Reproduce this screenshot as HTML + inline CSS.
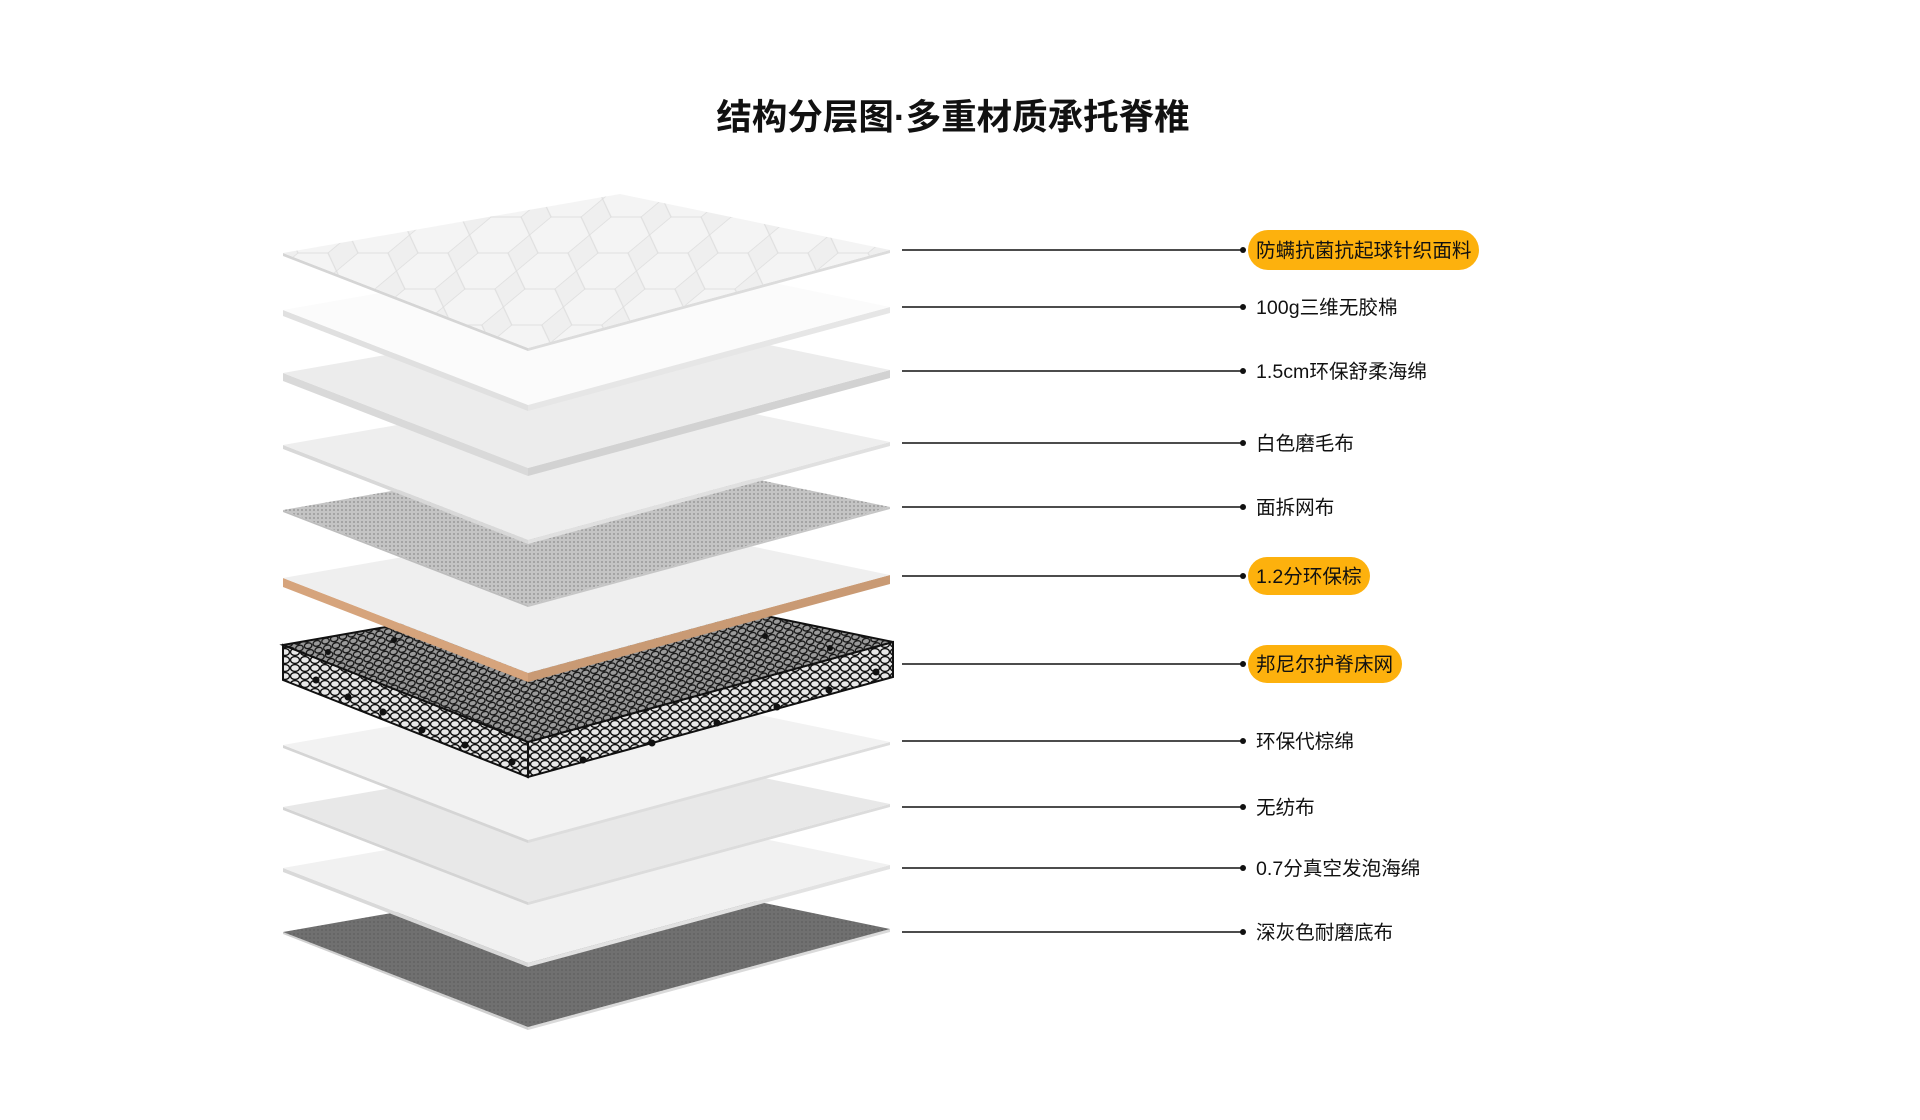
<!DOCTYPE html>
<html><head><meta charset="utf-8"><style>
html,body{margin:0;padding:0;background:#fff;}
svg{display:block;}
</style></head><body>
<svg width="1920" height="1120" viewBox="0 0 1920 1120" xmlns="http://www.w3.org/2000/svg">
<defs>
<pattern id="spr" width="10" height="8" patternUnits="userSpaceOnUse">
<rect width="10" height="8" fill="#e8e8e8"/>
<ellipse cx="5" cy="4" rx="4.5" ry="3.4" fill="none" stroke="#111" stroke-width="1.4"/>
</pattern>
<pattern id="spr2" width="9" height="7" patternUnits="userSpaceOnUse" patternTransform="rotate(-15)">
<ellipse cx="4.5" cy="3.5" rx="3.8" ry="2.8" fill="none" stroke="#111" stroke-width="1.3"/>
</pattern>
<pattern id="mesh" width="4" height="4" patternUnits="userSpaceOnUse">
<rect width="4" height="4" fill="#c4c4c4"/>
<circle cx="2" cy="2" r="1" fill="#9a9a9a"/>
</pattern>
<pattern id="dark" width="4" height="4" patternUnits="userSpaceOnUse">
<rect width="4" height="4" fill="#707070"/>
<circle cx="2" cy="2" r="0.9" fill="#5e5e5e"/>
</pattern>
<pattern id="quilt" width="60" height="40" patternUnits="userSpaceOnUse" patternTransform="translate(283,253) skewX(-20) scale(1,0.9)">
<rect width="60" height="40" fill="#efefef"/>
<path d="M0 20 L15 0 L45 0 L60 20 L45 40 L15 40 Z" fill="#f4f4f4" stroke="#dedede" stroke-width="1"/>
</pattern>
</defs>
<rect width="1920" height="1120" fill="#fff"/>

<text x="953" y="129" text-anchor="middle" font-family="Liberation Sans, Noto Sans CJK SC, sans-serif" font-size="35.5" font-weight="bold" fill="#111">结构分层图·多重材质承托脊椎</text>

<!-- layer 11 -->
<polygon points="283,932 528,1027 528,1030 283,934" fill="#d0d0d0"/>
<polygon points="528,1027 890,929 890,932 528,1030" fill="#dadada"/>
<polygon points="283,932 620,873 890,929 528,1027" fill="url(#dark)"/>
<!-- layer 10 -->
<polygon points="283,868 528,963 528,967 283,872" fill="#d9d9d9"/>
<polygon points="528,963 890,865 890,869 528,967" fill="#e2e2e2"/>
<polygon points="283,868 620,809 890,865 528,963" fill="#f1f1f1"/>
<!-- layer 9 -->
<polygon points="283,807 528,902 528,905 283,810" fill="#d4d4d4"/>
<polygon points="528,902 890,804 890,807 528,905" fill="#dcdcdc"/>
<polygon points="283,807 620,748 890,804 528,902" fill="#e8e8e8"/>
<!-- layer 8 -->
<polygon points="283,745 528,840 528,843 283,748" fill="#d5d5d5"/>
<polygon points="528,840 890,742 890,745 528,843" fill="#dddddd"/>
<polygon points="283,745 620,686 890,742 528,840" fill="#f2f2f2"/>
<!-- springs -->
<polygon points="283,645 528,742 528,777 283,680" fill="url(#spr)" stroke="#111" stroke-width="2"/>
<polygon points="528,742 893,642 893,677 528,777" fill="url(#spr)" stroke="#111" stroke-width="2"/>
<polygon points="283,645 620,586 893,642 528,742" fill="#9a9a9a" stroke="#111" stroke-width="2"/>
<polygon points="283,645 620,586 893,642 528,742" fill="url(#spr2)"/>
<g fill="#111">
<circle cx="316" cy="680" r="3.5"/><circle cx="348" cy="697" r="3.5"/><circle cx="383" cy="712" r="3.5"/>
<circle cx="422" cy="730" r="3.5"/><circle cx="465" cy="745" r="3.5"/><circle cx="512" cy="762" r="3.5"/>
<circle cx="583" cy="760" r="3.5"/><circle cx="652" cy="743" r="3.5"/><circle cx="717" cy="723" r="3.5"/>
<circle cx="777" cy="707" r="3.5"/><circle cx="829" cy="690" r="3.5"/><circle cx="876" cy="672" r="3.5"/>
<circle cx="328" cy="652" r="3"/><circle cx="394" cy="640" r="3"/><circle cx="765" cy="636" r="3"/><circle cx="830" cy="648" r="3"/>
</g>
<!-- layer 6 -->
<polygon points="283,578 528,673 528,682 283,587" fill="#d6a47c"/>
<polygon points="528,673 890,575 890,584 528,682" fill="#c99a74"/>
<polygon points="283,578 620,519 890,575 528,673" fill="#efefef"/>
<!-- layer 5 -->
<polygon points="283,510 528,605 528,607 283,512" fill="#bdbdbd"/>
<polygon points="528,605 890,507 890,509 528,607" fill="#c6c6c6"/>
<polygon points="283,510 620,451 890,507 528,605" fill="url(#mesh)"/>
<!-- layer 4 -->
<polygon points="283,445 528,540 528,544 283,449" fill="#d8d8d8"/>
<polygon points="528,540 890,442 890,446 528,544" fill="#e0e0e0"/>
<polygon points="283,445 620,386 890,442 528,540" fill="#eeeeee"/>
<!-- layer 3 -->
<polygon points="283,373 528,468 528,476 283,381" fill="#d9d9d9"/>
<polygon points="528,468 890,370 890,378 528,476" fill="#d2d2d2"/>
<polygon points="283,373 620,314 890,370 528,468" fill="#ececec"/>
<!-- layer 2 -->
<polygon points="283,310 528,405 528,411 283,316" fill="#e0e0e0"/>
<polygon points="528,405 890,307 890,313 528,411" fill="#e6e6e6"/>
<polygon points="283,310 620,251 890,307 528,405" fill="#fbfbfb"/>
<!-- layer 1 -->
<polygon points="283,253 528,348 528,351 283,256" fill="#d5d5d5"/>
<polygon points="528,348 890,250 890,253 528,351" fill="#dcdcdc"/>
<polygon points="283,253 620,194 890,250 528,348" fill="url(#quilt)"/>

<!-- connectors -->
<g stroke="#111" stroke-width="1.6">
<line x1="902" y1="250" x2="1243" y2="250"/>
<line x1="902" y1="307" x2="1243" y2="307"/>
<line x1="902" y1="371" x2="1243" y2="371"/>
<line x1="902" y1="443" x2="1243" y2="443"/>
<line x1="902" y1="507" x2="1243" y2="507"/>
<line x1="902" y1="576" x2="1243" y2="576"/>
<line x1="902" y1="664" x2="1243" y2="664"/>
<line x1="902" y1="741" x2="1243" y2="741"/>
<line x1="902" y1="807" x2="1243" y2="807"/>
<line x1="902" y1="868" x2="1243" y2="868"/>
<line x1="902" y1="932" x2="1243" y2="932"/>
</g>
<g fill="#111">
<circle cx="1243" cy="250" r="3"/><circle cx="1243" cy="307" r="3"/><circle cx="1243" cy="371" r="3"/>
<circle cx="1243" cy="443" r="3"/><circle cx="1243" cy="507" r="3"/><circle cx="1243" cy="576" r="3"/>
<circle cx="1243" cy="664" r="3"/><circle cx="1243" cy="741" r="3"/><circle cx="1243" cy="807" r="3"/>
<circle cx="1243" cy="868" r="3"/><circle cx="1243" cy="932" r="3"/>
</g>
<g fill="#fdb10d">
<rect x="1248" y="230" width="231" height="40" rx="20"/>
<rect x="1248" y="557" width="122" height="38" rx="19"/>
<rect x="1248" y="645" width="154" height="38" rx="19"/>
</g>
<g font-family="Liberation Sans, Noto Sans CJK SC, sans-serif" font-size="19.6" fill="#111">
<text x="1256" y="257">防螨抗菌抗起球针织面料</text>
<text x="1256" y="314">100g三维无胶棉</text>
<text x="1256" y="378">1.5cm环保舒柔海绵</text>
<text x="1256" y="450">白色磨毛布</text>
<text x="1256" y="514">面拆网布</text>
<text x="1256" y="583">1.2分环保棕</text>
<text x="1256" y="671">邦尼尔护脊床网</text>
<text x="1256" y="748">环保代棕绵</text>
<text x="1256" y="814">无纺布</text>
<text x="1256" y="875">0.7分真空发泡海绵</text>
<text x="1256" y="939">深灰色耐磨底布</text>
</g>
</svg>
</body></html>
